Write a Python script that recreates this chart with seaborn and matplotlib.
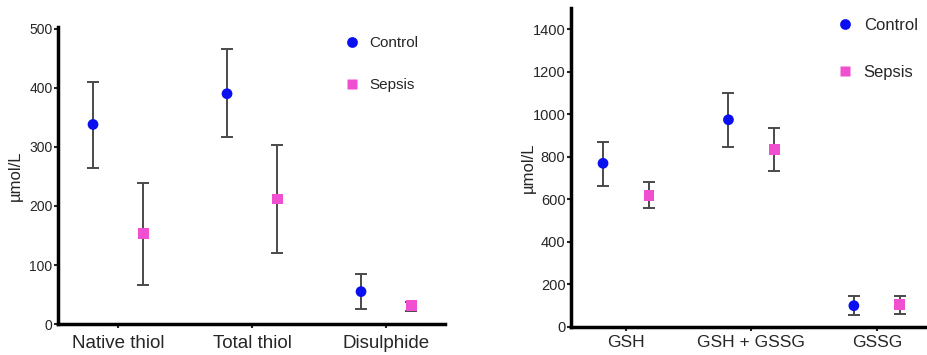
import numpy as np
import pandas as pd
import matplotlib
matplotlib.use("Agg")
import matplotlib.pyplot as plt
import seaborn as sns

# thiol panel
thiol_cats = ["Native thiol", "Total thiol", "Disulphide"]
thiol_control = [338, 390, 55]
thiol_control_lo = [265, 317, 25]
thiol_control_hi = [410, 465, 84]
thiol_sepsis = [153, 212, 31]
thiol_sepsis_lo = [67, 121, 23]
thiol_sepsis_hi = [239, 304, 38]

# glutathione panel
gsh_cats = ["GSH", "GSH + GSSG", "GSSG"]
gsh_control = [770, 975, 100]
gsh_control_lo = [665, 848, 55]
gsh_control_hi = [870, 1100, 145]
gsh_sepsis = [620, 835, 105]
gsh_sepsis_lo = [560, 735, 60]
gsh_sepsis_hi = [680, 935, 148]

groups = ["Control", "Sepsis"]
colors = {"Control": "#0a0ff0", "Sepsis": "#f050d0"}
markers = {"Control": "o", "Sepsis": "s"}

sns.set_style("ticks")
plt.rcParams["font.family"] = ["Liberation Sans", "DejaVu Sans"]


def make_df(cats, ctrl, clo, chi, seps, slo, shi, off):
    rows = []
    for i, c in enumerate(cats):
        rows.append(dict(cat=c, x=i - off, group="Control", y=ctrl[i], lo=clo[i], hi=chi[i]))
        rows.append(dict(cat=c, x=i + off, group="Sepsis", y=seps[i], lo=slo[i], hi=shi[i]))
    return pd.DataFrame(rows)


def panel(ax, df, cats, ylim, yticks, xlim, tick_fs, cat_fs, leg_fs, leg_anchor, xpad, lspace):
    for g in groups:
        d = df[df.group == g]
        ax.errorbar(d.x, d.y, yerr=[d.y - d.lo, d.hi - d.y], fmt="none",
                    ecolor="#4a4a4a", elinewidth=1.4, capsize=4, capthick=1.4, zorder=1)
    sns.scatterplot(data=df, x="x", y="y", hue="group", style="group",
                    palette=colors, markers=markers, s=60, edgecolor="none",
                    ax=ax, zorder=3)
    ax.set_xlim(*xlim)
    ax.set_ylim(*ylim)
    ax.set_yticks(yticks)
    ax.set_xticks(range(len(cats)))
    ax.set_xticklabels(cats, fontsize=cat_fs)
    ax.tick_params(axis="y", labelsize=tick_fs, length=3, width=1.5, pad=1)
    ax.tick_params(axis="x", length=3, width=1.5, pad=xpad)
    ax.set_xlabel("")
    ax.set_ylabel("µmol/L", fontsize=12)
    for s in ["left", "bottom"]:
        ax.spines[s].set_linewidth(2.5)
        ax.spines[s].set_color("black")
    sns.despine(ax=ax)
    ax.legend(loc="upper left", bbox_to_anchor=leg_anchor, frameon=False,
              fontsize=leg_fs, labelspacing=lspace, handletextpad=0.1,
              borderaxespad=0, markerscale=1.0)


fig = plt.figure(figsize=(9.27, 3.55), dpi=100)
ax1 = fig.add_axes([0.0626, 0.087, 0.4175, 0.837])
ax2 = fig.add_axes([0.616, 0.079, 0.384, 0.898])

df1 = make_df(thiol_cats, thiol_control, thiol_control_lo, thiol_control_hi,
              thiol_sepsis, thiol_sepsis_lo, thiol_sepsis_hi, 0.187)
df2 = make_df(gsh_cats, gsh_control, gsh_control_lo, gsh_control_hi,
              gsh_sepsis, gsh_sepsis_lo, gsh_sepsis_hi, 0.183)

panel(ax1, df1, thiol_cats, (0, 503), range(0, 501, 100), (-0.448, 2.44),
      10, 13.5, 11, (0.705, 0.99), 5, 1.85)
panel(ax2, df2, gsh_cats, (0, 1500), range(0, 1401, 200), (-0.438, 2.40),
      10.5, 12.5, 12, (0.705, 0.99), 3, 1.9)

ax1.yaxis.set_label_coords(-0.09, 0.5)
ax2.yaxis.set_label_coords(-0.1, 0.5)

fig.savefig("out.png", dpi=100)
